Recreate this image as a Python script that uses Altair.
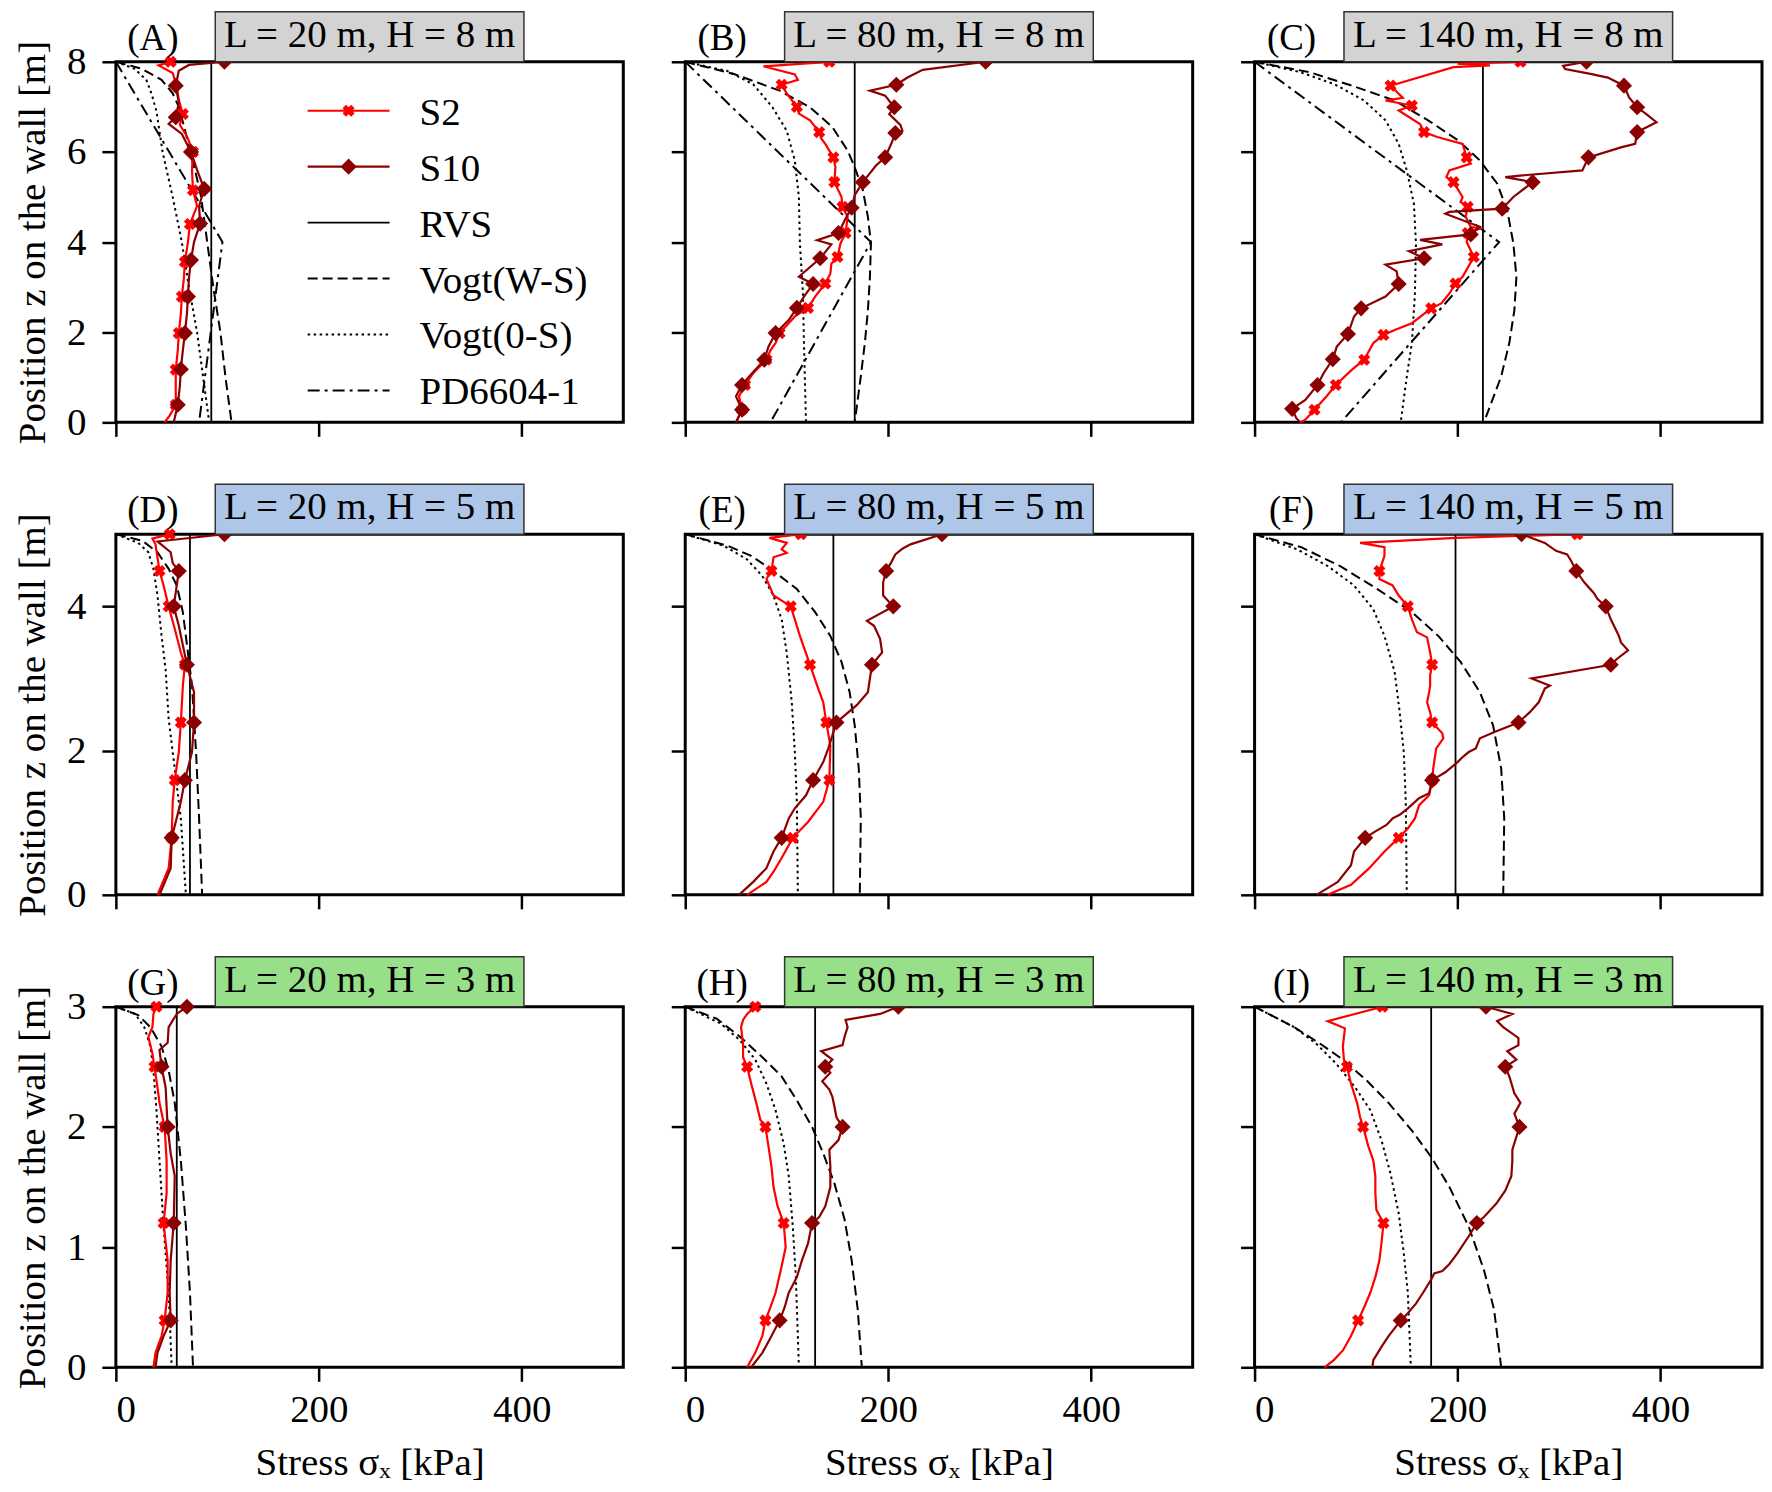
import altair as alt
import pandas as pd

FONT = "Liberation Serif"
FS = 39
PW, PH = 508, 361
RED, DARKRED = "#ff0000", "#8b0000"

# ---------------- data (z [m], stress [kPa], marker flag) ----------------
A_S2 = [(8.0,54,1),(7.92,42,0),(7.75,56,0),(7.45,60,0),(7.15,62,0),(6.84,66,1),(6.6,63,0),(6.35,70,0),(6.0,76,1),(5.6,75,0),(5.15,76,1),(4.8,80,0),(4.4,73,1),(4.0,71,0),(3.56,68,1),(3.2,67,0),(2.79,65,1),(2.4,64,0),(1.98,62,1),(1.6,61,0),(1.17,59,1),(0.8,59,0),(0.39,59,1),(0.15,53,0),(0.0,48,0)]
A_S10 = [(8.0,107,1),(7.93,72,0),(7.8,62,0),(7.47,59,1),(7.1,62,0),(6.77,59,1),(6.62,52,0),(6.4,65,0),(6.0,74,1),(5.6,80,0),(5.18,87,1),(4.8,82,0),(4.41,83,1),(4.0,77,0),(3.6,74,1),(3.2,72,0),(2.79,71,1),(2.4,70,0),(1.98,68,1),(1.6,66,0),(1.18,64,1),(0.8,63,0),(0.39,61,1),(0.0,57,0)]
A_VWS = [(8,0),(7.85,25),(7.6,45),(7.3,56),(7.0,62),(6.5,68),(6.0,73),(5.5,79),(5.0,84),(4.0,90),(3.0,96),(2.0,103),(1.0,108),(0,114)]
A_V0S = [(8,0),(7.85,18),(7.6,30),(7.3,35),(6.9,40),(6.0,46),(5.0,56),(4.0,65),(3.0,72),(2.0,80),(1.0,86),(0,92)]
A_PD = [(8,0),(4,105),(0,82)]

B_S2 = [(8.0,142,1),(7.9,77,0),(7.72,108,0),(7.6,111,0),(7.49,95,1),(7.3,100,0),(7.18,104,0),(7.0,110,1),(6.85,112,0),(6.7,123,0),(6.44,132,1),(6.3,134,0),(6.18,138,0),(5.88,146,1),(5.66,148,0),(5.33,147,1),(5.0,154,0),(4.78,155,1),(4.56,160,0),(4.2,158,1),(3.97,153,0),(3.67,150,1),(3.52,144,0),(3.3,143,0),(3.08,138,1),(2.79,128,0),(2.54,121,1),(2.35,108,0),(2.2,102,0),(1.98,93,1),(1.76,89,0),(1.6,84,0),(1.39,80,1),(1.09,67,0),(0.83,59,1),(0.58,53,0),(0.28,56,1),(0.0,50,0)]
B_S10 = [(8.0,296,1),(7.82,234,0),(7.65,219,0),(7.49,208,1),(7.36,182,0),(7.25,197,0),(6.99,206,1),(6.84,201,0),(6.6,212,0),(6.47,214,0),(6.42,207,1),(6.18,203,0),(5.88,197,1),(5.7,188,0),(5.33,175,1),(5.04,167,0),(4.76,164,1),(4.52,158,0),(4.2,151,1),(4.04,130,0),(3.95,144,0),(3.64,133,1),(3.23,112,0),(3.07,126,1),(2.79,117,0),(2.54,110,1),(2.27,102,0),(1.98,89,1),(1.68,82,0),(1.39,78,1),(1.02,63,0),(0.83,56,1),(0.58,50,0),(0.28,56,1),(0.0,50,0)]
B_VWS = [(8,0),(7.73,48),(7.36,93),(6.99,123),(6.55,145),(6.03,160),(5.66,167),(5.15,175),(4.56,180),(3.97,183),(3.23,182),(2.49,180),(1.76,177),(1.02,173),(0,167)]
B_V0S = [(8,0),(7.8,41),(7.5,67),(6.99,86),(6.47,100),(5.81,108),(5.0,112),(3.97,113),(2.86,116),(1.76,117),(0,119)]
B_PD = [(8,0),(4,183),(0,84)]

C_S2 = [(8.0,262,1),(7.96,200,0),(7.92,232,0),(7.88,196,0),(7.47,134,1),(7.2,146,0),(7.14,129,0),(7.03,155,1),(6.92,142,0),(6.62,163,0),(6.44,167,1),(6.33,180,0),(6.18,205,0),(5.88,209,1),(5.74,213,0),(5.59,192,0),(5.44,189,0),(5.33,196,1),(5.0,205,0),(4.89,203,0),(4.78,210,1),(4.56,208,0),(4.34,213,0),(4.3,222,0),(4.2,210,1),(4.0,209,0),(3.67,216,1),(3.23,205,0),(3.08,198,1),(2.86,192,0),(2.64,184,0),(2.53,174,1),(2.2,155,0),(2.05,138,0),(1.94,127,1),(1.76,117,0),(1.39,108,1),(1.17,96,0),(0.83,80,1),(0.58,71,0),(0.28,59,1),(0.06,50,0),(0.0,45,0)]
C_S10 = [(8.0,327,1),(7.91,304,0),(7.84,306,0),(7.73,331,0),(7.65,348,0),(7.47,364,1),(7.21,369,0),(6.99,377,1),(6.84,386,0),(6.66,396,0),(6.44,377,1),(6.18,375,0),(6.1,361,0),(5.88,329,1),(5.59,323,0),(5.48,264,0),(5.44,247,0),(5.33,274,1),(5.0,255,0),(4.74,244,1),(4.67,192,0),(4.63,188,0),(4.34,222,0),(4.17,213,1),(4.05,163,0),(3.95,185,0),(3.8,152,0),(3.64,167,1),(3.5,129,0),(3.35,140,0),(3.07,142,1),(2.79,129,0),(2.53,105,1),(2.35,98,0),(1.96,92,1),(1.68,81,0),(1.4,77,1),(1.09,68,0),(0.83,62,1),(0.5,50,0),(0.3,37,1),(0.1,41,0),(0.0,45,0)]
C_VWS = [(8,0),(7.77,54),(7.47,96),(7.14,138),(6.7,171),(6.25,201),(5.81,222),(5.3,239),(4.7,249),(3.97,255),(3.23,258),(2.49,256),(1.76,251),(1.02,243),(0,226)]
C_V0S = [(8,0),(7.77,45),(7.5,79),(7.14,108),(6.7,129),(6.18,142),(5.59,150),(4.85,157),(3.97,159),(2.86,158),(1.76,155),(1.02,150),(0,144)]
C_PD = [(8,0),(4,241),(0,85)]

D_S2 = [(5.0,53,1),(4.94,36,0),(4.86,39,0),(4.49,43,1),(4.29,47,0),(4.0,52,1),(3.69,58,0),(3.36,64,0),(3.19,68,1),(2.9,66,0),(2.39,64,1),(1.98,62,0),(1.59,58,1),(1.29,56,0),(0.79,55,1),(0.37,52,0),(0.0,41,0)]
D_S10 = [(5.0,107,1),(4.9,41,0),(4.75,54,0),(4.6,56,0),(4.49,62,1),(4.29,60,0),(4.0,57,1),(3.73,62,0),(3.19,70,1),(2.81,77,0),(2.39,77,1),(1.98,75,0),(1.59,68,1),(1.29,64,0),(0.79,55,1),(0.37,54,0),(0.0,43,0)]
D_VWS = [(5,0),(4.91,26),(4.75,41),(4.52,52),(4.29,60),(3.92,66),(3.36,71),(2.9,75),(1.98,79),(1.06,82),(0,85)]
D_V0S = [(5,0),(4.88,22),(4.75,32),(4.52,37),(4.15,41),(3.59,45),(3.13,49),(2.44,52),(1.75,58),(1.06,64),(0,69)]

E_S2 = [(5.0,114,1),(4.95,83,0),(4.88,100,0),(4.79,95,0),(4.74,100,0),(4.68,87,0),(4.49,85,1),(4.38,80,0),(4.15,87,0),(4.0,104,1),(3.82,108,0),(3.59,113,0),(3.19,123,1),(2.9,130,0),(2.67,136,0),(2.39,139,1),(2.07,143,0),(1.59,142,1),(1.29,136,0),(1.01,121,0),(0.79,106,1),(0.51,95,0),(0.32,87,0),(0.18,80,0),(0.0,61,0)]
E_S10 = [(5.0,253,1),(4.86,222,0),(4.8,214,0),(4.72,207,0),(4.61,203,0),(4.49,198,1),(4.33,195,0),(4.15,195,0),(4.0,205,1),(3.8,179,0),(3.73,186,0),(3.55,192,0),(3.36,194,0),(3.19,184,1),(2.81,180,0),(2.63,169,0),(2.39,149,1),(2.03,141,0),(1.84,136,0),(1.59,126,1),(1.38,119,0),(1.2,108,0),(1.06,102,0),(0.79,95,1),(0.6,87,0),(0.37,80,0),(0.18,67,0),(0.0,53,0)]
E_VWS = [(5,0),(4.84,42),(4.7,65),(4.49,87),(4.24,110),(3.92,128),(3.59,143),(3.23,154),(2.81,162),(2.35,167),(1.75,171),(1.06,173),(0,172)]
E_V0S = [(5,0),(4.84,38),(4.65,61),(4.42,76),(4.15,87),(3.82,95),(3.36,100),(2.67,105),(1.98,108),(1.29,110),(0,111)]

F_S2 = [(5.0,318,1),(4.95,198,0),(4.88,104,0),(4.82,128,0),(4.7,128,0),(4.49,123,1),(4.38,123,0),(4.29,136,0),(4.15,142,0),(4.0,151,1),(3.82,155,0),(3.64,160,0),(3.57,170,0),(3.36,173,0),(3.19,175,1),(3.04,173,0),(2.9,173,0),(2.81,172,0),(2.67,170,0),(2.53,173,0),(2.39,175,1),(2.24,185,0),(2.17,186,0),(2.03,179,0),(1.75,176,0),(1.59,175,1),(1.38,172,0),(1.24,162,0),(1.06,158,0),(0.92,151,0),(0.79,142,1),(0.6,128,0),(0.37,113,0),(0.14,95,0),(0.0,72,0)]
F_S10 = [(5.0,263,1),(4.88,286,0),(4.77,297,0),(4.72,308,0),(4.63,312,0),(4.49,317,1),(4.33,325,0),(4.19,334,0),(4.1,338,0),(4.0,346,1),(3.82,351,0),(3.59,359,0),(3.5,361,0),(3.39,368,0),(3.27,357,0),(3.19,351,1),(3.0,273,0),(2.9,291,0),(2.86,286,0),(2.67,280,0),(2.53,271,0),(2.39,260,1),(2.26,237,0),(2.17,222,0),(2.03,218,0),(1.98,211,0),(1.91,205,0),(1.84,200,0),(1.7,188,0),(1.59,175,1),(1.41,172,0),(1.34,162,0),(1.2,151,0),(1.11,143,0),(1.06,136,0),(0.97,130,0),(0.88,119,0),(0.79,109,1),(0.6,98,0),(0.41,95,0),(0.18,82,0),(0.0,61,0)]
F_VWS = [(5,0),(4.82,46),(4.56,84),(4.24,121),(3.92,155),(3.59,181),(3.23,203),(2.81,222),(2.35,235),(1.75,243),(1.06,246),(0,245)]
F_V0S = [(5,0),(4.79,42),(4.56,72),(4.29,98),(3.96,117),(3.59,128),(3.09,138),(2.53,143),(1.98,147),(1.29,149),(0,150)]

G_S2 = [(3.0,40,1),(2.94,37,0),(2.83,36,0),(2.75,32,0),(2.61,36,0),(2.5,38,1),(2.33,41,0),(2.2,43,0),(2.0,48,1),(1.72,50,0),(1.45,50,0),(1.2,47,1),(0.89,51,0),(0.62,51,0),(0.39,48,1),(0.26,45,0),(0.12,39,0),(0.0,37,0)]
G_S10 = [(3.0,70,1),(2.94,60,0),(2.83,52,0),(2.7,51,0),(2.64,43,0),(2.5,45,1),(2.33,49,0),(2.0,51,1),(1.78,54,0),(1.59,58,0),(1.2,57,1),(0.89,54,0),(0.62,53,0),(0.39,54,1),(0.26,47,0),(0.12,41,0),(0.0,39,0)]
G_VWS = [(3,0),(2.93,22),(2.83,34),(2.67,45),(2.47,52),(2.2,58),(1.72,64),(1.17,69),(0.62,73),(0,76)]
G_V0S = [(3,0),(2.94,19),(2.83,28),(2.67,34),(2.47,37),(2.14,40),(1.72,43),(1.17,47),(0.62,52),(0,55)]

H_S2 = [(3.0,69,1),(2.94,61,0),(2.89,57,0),(2.83,55,0),(2.69,57,0),(2.58,57,0),(2.5,61,1),(2.36,65,0),(2.2,70,0),(2.06,74,0),(2.0,79,1),(1.84,82,0),(1.67,85,0),(1.5,87,0),(1.34,91,0),(1.2,97,1),(1.0,99,0),(0.84,95,0),(0.62,89,0),(0.5,84,0),(0.39,79,1),(0.26,76,0),(0.12,69,0),(0.0,61,0)]
H_S10 = [(3.0,210,1),(2.94,192,0),(2.89,158,0),(2.83,160,0),(2.75,157,0),(2.68,155,0),(2.63,134,0),(2.56,145,0),(2.5,138,1),(2.45,143,0),(2.38,135,0),(2.31,142,0),(2.25,145,0),(2.17,147,0),(2.08,149,0),(2.0,155,1),(1.89,151,0),(1.81,142,0),(1.67,143,0),(1.5,143,0),(1.34,138,0),(1.25,132,0),(1.2,125,1),(1.03,121,0),(0.89,115,0),(0.75,110,0),(0.62,102,0),(0.5,98,0),(0.39,93,1),(0.26,85,0),(0.12,76,0),(0.0,65,0)]
H_VWS = [(3,0),(2.9,31),(2.75,54),(2.58,76),(2.42,95),(2.22,110),(2.0,125),(1.78,136),(1.53,147),(1.23,157),(0.89,164),(0.48,170),(0,174)]
H_V0S = [(3,0),(2.86,35),(2.72,54),(2.56,69),(2.36,80),(2.14,89),(1.86,97),(1.59,102),(1.17,106),(0.75,109),(0,112)]

I_S2 = [(3.0,126,1),(2.88,72,0),(2.82,89,0),(2.67,87,0),(2.56,88,0),(2.5,91,1),(2.36,95,0),(2.2,101,0),(2.08,104,0),(2.0,107,1),(1.84,112,0),(1.72,117,0),(1.59,119,0),(1.45,119,0),(1.31,120,0),(1.2,127,1),(1.03,125,0),(0.89,123,0),(0.75,119,0),(0.62,114,0),(0.5,108,0),(0.39,102,1),(0.26,95,0),(0.14,87,0),(0.06,78,0),(0.0,69,0)]
I_S10 = [(3.0,228,1),(2.94,254,0),(2.88,239,0),(2.83,245,0),(2.74,260,0),(2.68,260,0),(2.63,249,0),(2.56,258,0),(2.5,247,1),(2.42,251,0),(2.28,256,0),(2.2,262,0),(2.11,256,0),(2.0,261,1),(1.81,254,0),(1.72,254,0),(1.59,253,0),(1.47,247,0),(1.36,238,0),(1.25,226,0),(1.2,219,1),(1.09,211,0),(0.95,200,0),(0.86,192,0),(0.8,185,0),(0.78,177,0),(0.73,174,0),(0.62,166,0),(0.53,159,0),(0.45,151,0),(0.39,144,1),(0.26,132,0),(0.17,125,0),(0.06,117,0),(0.0,116,0)]
I_VWS = [(3,0),(2.83,39),(2.69,65),(2.56,87),(2.39,110),(2.2,132),(1.97,155),(1.75,174),(1.5,192),(1.17,211),(0.81,226),(0.48,236),(0,243)]
I_V0S = [(3,0),(2.83,39),(2.69,61),(2.53,80),(2.33,99),(2.14,114),(1.89,125),(1.61,134),(1.28,142),(0.95,147),(0.62,151),(0,154)]

RVS = {"A": 94, "B": 167, "C": 225, "D": 73, "E": 146, "F": 198, "G": 60, "H": 128, "I": 174}

PANELS = [
    ("A", "L = 20 m, H = 8 m", 8, "#d3d3d3", A_S2, A_S10, A_VWS, A_V0S, A_PD),
    ("B", "L = 80 m, H = 8 m", 8, "#d3d3d3", B_S2, B_S10, B_VWS, B_V0S, B_PD),
    ("C", "L = 140 m, H = 8 m", 8, "#d3d3d3", C_S2, C_S10, C_VWS, C_V0S, C_PD),
    ("D", "L = 20 m, H = 5 m", 5, "#aec7e8", D_S2, D_S10, D_VWS, D_V0S, None),
    ("E", "L = 80 m, H = 5 m", 5, "#aec7e8", E_S2, E_S10, E_VWS, E_V0S, None),
    ("F", "L = 140 m, H = 5 m", 5, "#aec7e8", F_S2, F_S10, F_VWS, F_V0S, None),
    ("G", "L = 20 m, H = 3 m", 3, "#98df8a", G_S2, G_S10, G_VWS, G_V0S, None),
    ("H", "L = 80 m, H = 3 m", 3, "#98df8a", H_S2, H_S10, H_VWS, H_V0S, None),
    ("I", "L = 140 m, H = 3 m", 3, "#98df8a", I_S2, I_S10, I_VWS, I_V0S, None),
]
Y_TICKS = {8: [0, 2, 4, 6, 8], 5: [0, 2, 4], 3: [0, 1, 2, 3]}
X_TICKS = [0, 200, 400]
X_DOMAIN = [0, 500]

LEGEND = [
    ("S2", RED, 2.2, None, "cross"),
    ("S10", DARKRED, 2.2, None, "diamond"),
    ("RVS", "black", 1.8, None, None),
    ("Vogt(W-S)", "black", 2, [10, 5], None),
    ("Vogt(0-S)", "black", 2, [2.5, 3.5], None),
    ("PD6604-1", "black", 2, [12, 5, 3, 5], None),
]

ONE = alt.Data(values=[{"a": 1}])
CROSS_SIZE = 150
DIAMOND_SIZE = 260


def series_df(points):
    return pd.DataFrame({"z": [p[0] for p in points],
                         "s": [p[1] for p in points],
                         "i": list(range(len(points)))})


def marker_df(points):
    pts = [p for p in points if p[2] == 1]
    return pd.DataFrame({"z": [p[0] for p in pts], "s": [p[1] for p in pts]})


def line_layer(points, color, width, dash=None):
    kw = dict(color=color, strokeWidth=width)
    if dash:
        kw["strokeDash"] = dash
    return alt.Chart(series_df(points)).mark_line(**kw)


def panel(idx, key, label, H, boxcolor, s2, s10, vws, v0s, pdp):
    row, col = divmod(idx, 3)
    bottom = row == 2
    left = col == 0
    X = alt.X("s:Q", scale=alt.Scale(domain=X_DOMAIN, nice=False),
              axis=alt.Axis(values=X_TICKS, labels=bottom, labelPadding=9),
              title=("Stress σₓ [kPa]" if bottom else None))
    Y = alt.Y("z:Q", scale=alt.Scale(domain=[0, H], nice=False),
              axis=alt.Axis(values=Y_TICKS[H], labels=left, labelPadding=16),
              title=("Position z on the wall [m]" if left else None))
    enc = dict(x=X, y=Y, order=alt.Order("i:Q"))
    layers = [
        line_layer(vws, "black", 2, [10, 5]).encode(**enc),
        line_layer(v0s, "black", 2, [2.5, 3.5]).encode(**enc),
    ]
    if pdp is not None:
        layers.append(line_layer(pdp, "black", 2, [12, 5, 3, 5]).encode(**enc))
    layers.append(alt.Chart(pd.DataFrame({"s": [RVS[key]]}))
                  .mark_rule(color="black", strokeWidth=1.8).encode(x=X))
    layers.append(line_layer(s2, RED, 2.2).encode(**enc))
    layers.append(alt.Chart(marker_df(s2)).mark_point(
        shape="cross", angle=45, filled=True, size=CROSS_SIZE, color=RED, opacity=1).encode(x=X, y=Y))
    layers.append(line_layer(s10, DARKRED, 2.2).encode(**enc))
    layers.append(alt.Chart(marker_df(s10)).mark_point(
        shape="diamond", filled=True, size=DIAMOND_SIZE, color=DARKRED, opacity=1).encode(x=X, y=Y))

    # title box and panel label
    bw = 329 if "140" in label else 309
    layers.append(alt.Chart(ONE).mark_rect(fill=boxcolor, stroke="#333333", strokeWidth=1.5).encode(
        x=alt.value(PW / 2 - bw / 2), x2=alt.value(PW / 2 + bw / 2),
        y=alt.value(-50), y2=alt.value(0)))
    layers.append(alt.Chart(ONE).mark_text(font=FONT, fontSize=FS, color="black",
                                           align="center", baseline="alphabetic").encode(
        x=alt.value(PW / 2), y=alt.value(-15), text=alt.value(label)))
    layers.append(alt.Chart(ONE).mark_text(font=FONT, fontSize=FS - 2, color="black",
                                           align="center", baseline="alphabetic").encode(
        x=alt.value(37), y=alt.value(-12), text=alt.value("(" + key + ")")))

    if key == "A":
        for k, (name, color, w, dash, shape) in enumerate(LEGEND):
            yy = 49 + 56 * k
            kw = dict(color=color, strokeWidth=w)
            if dash:
                kw["strokeDash"] = dash
            layers.append(alt.Chart(ONE).mark_rule(**kw).encode(
                x=alt.value(192), x2=alt.value(274), y=alt.value(yy)))
            if shape == "cross":
                layers.append(alt.Chart(ONE).mark_point(
                    shape="cross", angle=45, filled=True, size=CROSS_SIZE, color=color, opacity=1).encode(
                    x=alt.value(233), y=alt.value(yy)))
            elif shape == "diamond":
                layers.append(alt.Chart(ONE).mark_point(
                    shape="diamond", filled=True, size=DIAMOND_SIZE, color=color, opacity=1).encode(
                    x=alt.value(233), y=alt.value(yy)))
            layers.append(alt.Chart(ONE).mark_text(font=FONT, fontSize=FS, color="black",
                                                   align="left", baseline="middle").encode(
                x=alt.value(304), y=alt.value(yy + 2), text=alt.value(name)))

    return alt.layer(*layers).properties(width=PW, height=PH)


panels = [panel(i, *p) for i, p in enumerate(PANELS)]

chart = alt.concat(*panels, columns=3, spacing={"row": 112, "column": 62}, bounds="flush").properties(
    padding={"left": 4, "top": 0, "right": 0, "bottom": 0}, background="white"
).configure_view(
    stroke="black", strokeWidth=3
).configure_axis(
    labelFont=FONT, labelFontSize=FS, labelColor="black",
    titleFont=FONT, titleFontSize=FS, titleColor="black", titleFontWeight="normal",
    tickColor="black", tickSize=14, tickWidth=2.5, grid=False, domain=False
).configure_axisX(
    titlePadding=14
).configure_axisY(
    titlePadding=14
)

chart.save("out.html", embed_options={"renderer": "svg", "actions": False})
